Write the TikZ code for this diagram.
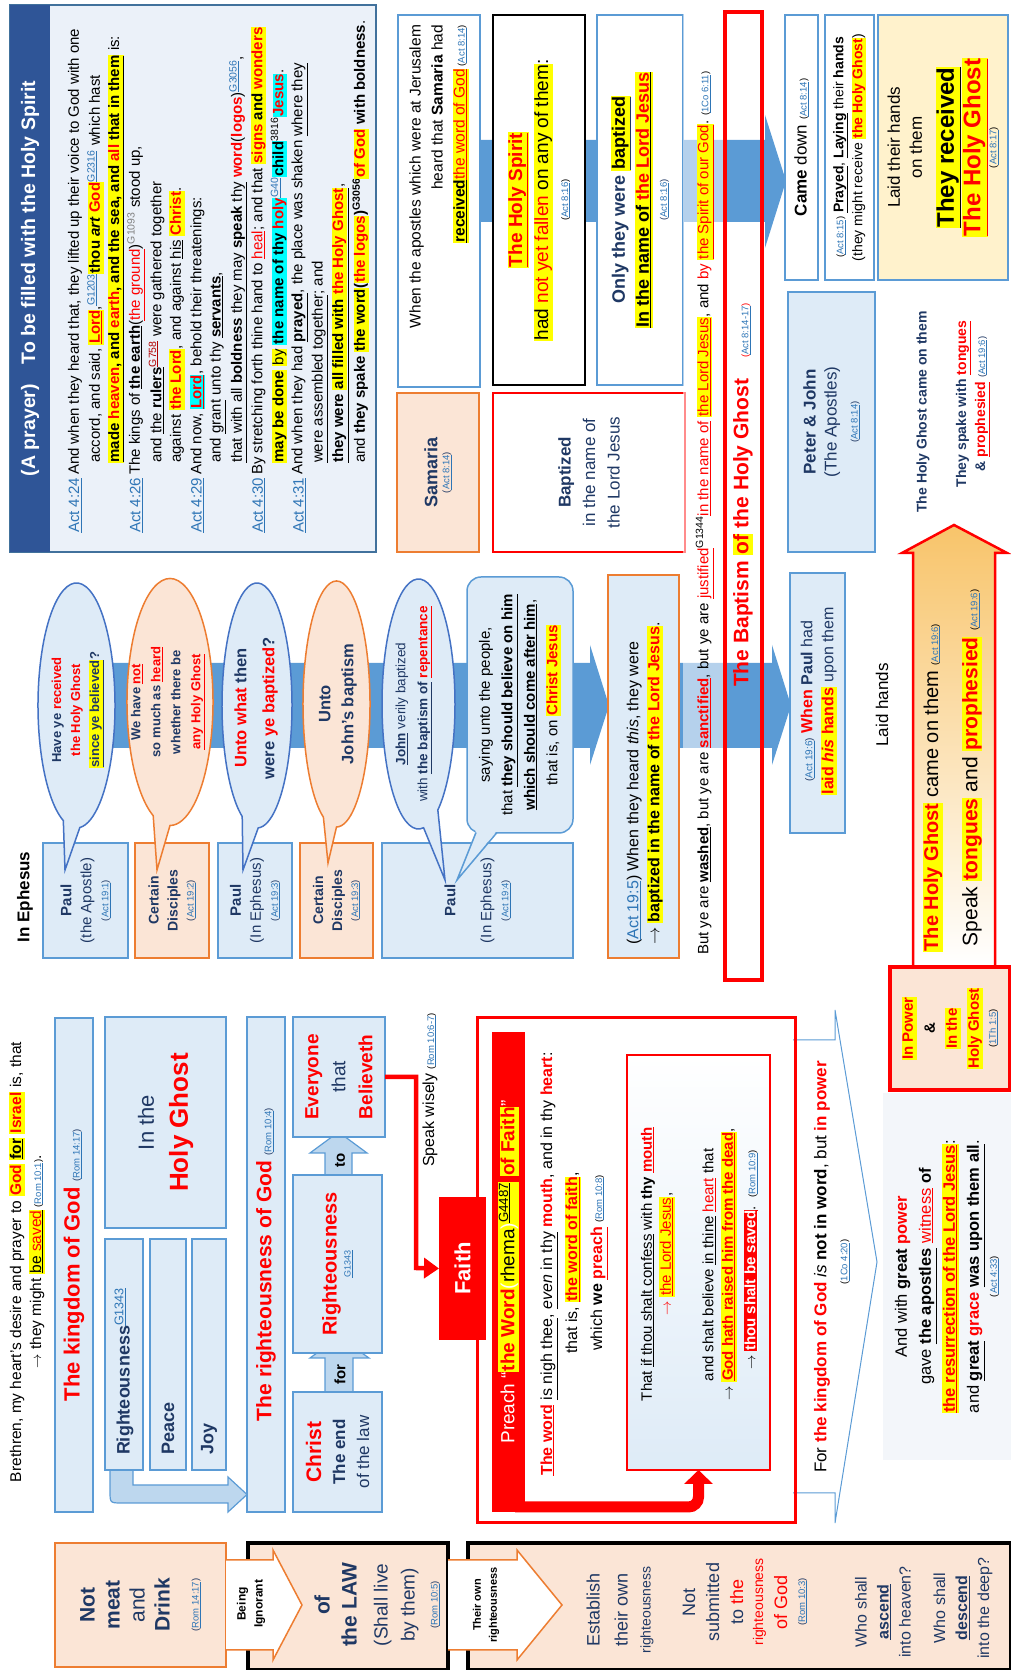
\documentclass[tikz,border=0pt]{standalone}
\usepackage{fontspec}
\setmainfont{Liberation Sans}
\usetikzlibrary{arrows.meta,positioning,calc}

\definecolor{bfill}{HTML}{DEEBF7}
\definecolor{bline}{HTML}{5B9BD5}
\definecolor{eline}{HTML}{4472C4}
\definecolor{ofill}{HTML}{FBE5D6}
\definecolor{oline}{HTML}{ED7D31}
\definecolor{navy}{HTML}{1F3864}
\definecolor{tbar}{HTML}{2F5597}
\definecolor{pfill}{HTML}{EBF1F9}
\definecolor{pline}{HTML}{41719C}
\definecolor{lnk}{HTML}{2E75B6}
\definecolor{arr}{HTML}{5B9BD5}
\definecolor{arrlt}{HTML}{BDD7EE}
\definecolor{hy}{HTML}{FFFF00}
\definecolor{hc}{HTML}{00FFFF}
\definecolor{gold}{HTML}{F8C46A}
\definecolor{cream}{HTML}{FFF2CC}
\definecolor{afill}{HTML}{F3F6FA}

\newcommand\fsz[2]{\fontsize{#1}{#2}\selectfont}
\newcommand\hl[1]{{\setlength{\fboxsep}{0.6pt}\colorbox{hy}{\vphantom{Ag}#1}}}
\newcommand\hc[1]{{\setlength{\fboxsep}{0.6pt}\colorbox{hc}{\vphantom{Ag}#1}}}
\newcommand\rd[1]{\textcolor{red}{#1}}
\newcommand\un[1]{\underline{#1}}
\newcommand\lk[1]{\textcolor{lnk}{\underline{#1}}}
\newcommand\sref[1]{{\fsz{9.5}{11}(\lk{#1})}}
\newcommand\gn[1]{\textsuperscript{\lk{#1}}}

\begin{document}
\begin{tikzpicture}[rotate=90, transform shape, x=1pt, y=-1pt,
    every node/.style={inner sep=0pt, outer sep=0pt, align=center},
    bbox/.style={draw=bline, fill=bfill, line width=1.5pt, text=navy},
    wbox/.style={draw=bline, fill=white, line width=1.5pt, text=black},
    obox/.style={draw=oline, fill=ofill, line width=1.5pt, text=navy},
    kframe/.style={draw=black, fill=ofill, line width=3.5pt},
    bball/.style={draw=eline, fill=bfill, line width=1.5pt},
    oball/.style={draw=oline, fill=ofill, line width=1.5pt},
    pl/.style={anchor=west, font=\fsz{15}{18}},
    barrow/.style={draw=bline, fill=arrlt, line width=1.2pt},
    oarrow/.style={draw=oline, fill=white, line width=1.5pt},
    ]

    %Page
    \useasboundingbox (0,0) rectangle (1670,1011);

    %Big arrows
    \fill[arr] (1448,440) -- (1530,440) -- (1530,765) -- (1555,765) -- (1489,786) -- (1422,765) -- (1448,765) -- cycle;
    \fill[arr] (922,60) -- (1007,60) -- (1007,590) -- (1025,590) -- (964.5,609) -- (905,590) -- (922,590) -- cycle;
    \fill[arr] (922,680) -- (1007,680) -- (1007,772) -- (1025,772) -- (964.5,791) -- (905,772) -- (922,772) -- cycle;

    %Prayer
    \node[draw=pline, fill=pfill, line width=1.5pt, minimum width=547pt, minimum height=366pt] (prayer) at (1391.5,193) {};
    \node[fill=tbar, minimum width=547pt, minimum height=40pt, text=white, font=\fsz{19.5}{23}\bfseries] (ptitle) at (1391.5,30) {(A prayer)\quad To be filled with the Holy Spirit};
    \node[pl] (a24) at (1137,75) {\lk{Act 4:24}};
    \node[pl] (p1) at (1195,75) {And when they heard that, they lifted up their voice to God with one};
    \node[pl] (p2) at (1207,95.4) {accord, and said, \hl{\rd{\textbf{\un{Lord}}}},\gn{G1203}\hl{\textbf{thou \textit{art} \rd{God}}}\gn{G2316} which hast};
    \node[pl] (p3) at (1207,115.8) {\hl{\textbf{\un{made \rd{heaven}, and \rd{earth}, and the sea, and \rd{all} that in them}}} is:};
    \node[pl] (a26) at (1137,136.2) {\lk{Act 4:26}};
    \node[pl] (p4) at (1195,136.2) {The kings of \textbf{\un{the earth}}(\rd{\un{the ground}})\textsuperscript{\textcolor{gray}{G1093}} stood up,};
    \node[pl] (p5) at (1207,156.6) {and \un{the \textbf{rulers}}\textsuperscript{\textcolor{red!70!black}{\un{G758}}} were gathered together};
    \node[pl] (p6) at (1207,177) {against \hl{\rd{\textbf{the Lord}}}, and against \un{his} \hl{\rd{\textbf{Christ}}}.};
    \node[pl] (a29) at (1137,197.4) {\lk{Act 4:29}};
    \node[pl] (p7) at (1195,197.4) {And now, \hc{\rd{\textbf{\un{Lord}}}}, behold their threatenings:};
    \node[pl] (p8) at (1207,217.8) {and \un{grant} unto thy \textbf{\un{servants}},};
    \node[pl] (p9) at (1207,238.2) {\un{that with all \textbf{boldness} they may \textbf{speak} thy} \rd{\textbf{word}}(\rd{\textbf{logos}})\gn{G3056},};
    \node[pl] (a30) at (1137,258.6) {\lk{Act 4:30}};
    \node[pl] (p10) at (1195,258.6) {By stretching forth thine hand to \rd{\un{heal}}; and that \hl{\textbf{\rd{signs} and \rd{wonders}}}};
    \node[pl] (p11) at (1207,279) {\hl{\textbf{may be done}} \hl{by} \hc{\textbf{the name of thy \rd{holy}}}\gn{G40}\hc{\textbf{child}}\textsuperscript{3816}\hc{\rd{\textbf{Jesus}}}.};
    \node[pl] (a31) at (1137,299.4) {\lk{Act 4:31}};
    \node[pl] (p12) at (1195,299.4) {And when they had \un{\textbf{prayed}}, the place was shaken \un{where they}};
    \node[pl] (p13) at (1207,319.8) {\un{were assembled together}; and};
    \node[pl] (p14) at (1207,340.2) {\textbf{\un{they were \hl{all filled with \rd{the Holy Ghost}}}},};
    \node[pl] (p15) at (1207,360.6) {and \textbf{they spake \hl{the word}(\hl{\rd{the logos}})\textsuperscript{G3056}\hl{\rd{of God}} with boldness}.};

    %Samaria
    \node[wbox, minimum width=372pt, minimum height=82pt] (apostles) at (1469,439) {};
    \node[anchor=east, align=right, font=\fsz{15.5}{22}] (apostlestxt) at (1645,439) {When the apostles which were at Jerusalem\\heard that \textbf{Samaria} had\\\hl{\un{\textbf{received}}\rd{\un{the word of God}}}\,\sref{Act 8:14}};
    \node[draw=black, fill=white, line width=1.5pt, minimum width=370pt, minimum height=92pt, font=\fsz{19}{26}] (notyet) at (1470,539) {\hl{\rd{\un{\textbf{The Holy Spirit}}}}\\\hl{had \rd{not yet fallen} on any of them}:\\[-6pt]\sref{Act 8:16}};
    \node[wbox, minimum width=370pt, minimum height=86pt, font=\fsz{18}{24}\bfseries, text=navy] (onlybapt) at (1470,640) {Only they were \hl{\un{\textcolor{black}{baptized}}}\\\hl{\textcolor{black}{\un{In the name of \rd{the Lord Jesus}}}}\\[-6pt]{\mdseries\sref{Act 8:16}}};
    \node[wbox, minimum width=265pt, minimum height=33pt, font=\fsz{17}{20}] (camedown) at (1522.5,801.5) {\textbf{Came} down \sref{Act 8:14}};
    \node[wbox, minimum width=265pt, minimum height=49pt, font=\fsz{14}{19}] (prayed) at (1522.5,849.5) {\sref{Act 8:15} \textbf{\un{Prayed}}, \un{\textbf{Laying}} their \textbf{hands}\\(they might receive \hl{\rd{\textbf{the Holy Ghost}}})};
    \node[draw=bline, fill=cream, line width=1.5pt, minimum width=265pt, minimum height=130pt, font=\fsz{17}{22}] (laid) at (1522.5,943) {Laid their hands\\on them\\[10pt]{\fsz{24}{30}\bfseries\hl{\un{They received}}}\\{\fsz{24}{30}\bfseries\hl{\rd{\un{The Holy Ghost}}}}\\[-6pt]\sref{Act 8:17}};
    \node[obox, minimum width=159pt, minimum height=82pt] (samaria) at (1197.5,438) {{\fsz{18}{22}\bfseries Samaria}\\\sref{Act 8:14}};
    \node[draw=red, fill=white, line width=1.5pt, minimum width=159pt, minimum height=192pt, font=\fsz{17}{24.5}, text=navy] (baptized) at (1197.5,589) {\textbf{Baptized}\\in the name of\\the Lord Jesus};
    \node[bbox, minimum width=260pt, minimum height=87pt, font=\fsz{17}{21}] (peter) at (1248,831.5) {\textbf{Peter \& John}\\(The Apostles)\\\sref{Act 8:14}};
    \node[font=\fsz{14}{18}\bfseries, text=navy] (hgsam) at (1258,923) {The Holy Ghost came on them};
    \node[font=\fsz{14}{19}\bfseries, text=navy] (spake) at (1266,973) {They spake with \rd{\un{tongues}}\\\& \rd{\un{prophesied}} {\mdseries\sref{Act 19:6}}};

    %Washed
    \fill[white, opacity=0.55] (712,683) rectangle (1660,723);
    \node[anchor=west, font=\fsz{15}{18}] (washed) at (715,705) {But ye are \textbf{\un{washed}}, but ye are \rd{\un{\textbf{sanctified}}}, but ye are \rd{\un{justified}}\textsuperscript{G1344}\rd{\un{in the name of}} \hl{\rd{\un{the Lord Jesus}}}, and \rd{by} \hl{\rd{\un{the Spirit of our God}}}.\ \sref{1Co 6:11}};
    \node[draw=red, line width=3.5pt, minimum width=968pt, minimum height=37pt] (baptism) at (1174,743.5) {};
    \node[font=\fsz{21}{25}\bfseries, text=red] (baptismtxt) at (1175,743) {The Baptism \hl{of} the Holy Ghost\quad{\mdseries\sref{Act 8:14-17}}};

    %Ephesus
    \node[font=\fsz{17}{20}\bfseries] (ephesus) at (773,25) {In Ephesus};
    \node[bbox, minimum width=115pt, minimum height=85pt, font=\fsz{15}{20}] (paul1) at (769.5,85.5) {\textbf{Paul}\\(the Apostle)\\[-3pt]\sref{Act 19:1}};
    \node[obox, minimum width=115pt, minimum height=74pt, font=\fsz{14}{19}\bfseries] (dis1) at (769.5,172) {Certain\\Disciples\\[-3pt]{\mdseries\sref{Act 19:2}}};
    \node[bbox, minimum width=115pt, minimum height=74pt, font=\fsz{15}{20}] (paul2) at (769.5,255) {\textbf{Paul}\\(In Ephesus)\\[-3pt]\sref{Act 19:3}};
    \node[obox, minimum width=115pt, minimum height=73pt, font=\fsz{14}{19}\bfseries] (dis2) at (769.5,336.5) {Certain\\Disciples\\[-3pt]{\mdseries\sref{Act 19:3}}};
    \node[bbox, minimum width=115pt, minimum height=191pt, font=\fsz{15}{20}] (paul3) at (769.5,477.5) {\textbf{Paul}\\[16pt](In Ephesus)\\[-3pt]\sref{Act 19:4}};
    \node[draw=oline, fill=bfill, line width=1.5pt, minimum width=383pt, minimum height=71pt] (heard) at (903.5,643.5) {};
    \node[anchor=west, align=left, font=\fsz{16}{21}] (heardtxt) at (725,645) {(\lk{Act 19:5}) When they heard \textit{this}, they were\\\(\rightarrow\) \hl{\textbf{baptized in the name of \rd{the Lord Jesus}}}.};
    \node[bbox, minimum width=260pt, minimum height=55pt] (laidhis) at (967,817.5) {};
    \node[font=\fsz{16}{21}, text=navy] (laidhistxt) at (969,819) {{\fsz{10}{12}(\lk{Act 19:6})} \rd{\textbf{When}} \textbf{Paul} had\\\hl{\rd{\textbf{laid \textit{his} hands}}} upon them};
    \node[font=\fsz{17}{20}] (laidhands) at (965,882) {Laid hands};

    %Questions and answers
    \draw[bball] (964.5,76.5) ++(200:122.5 and 38.5) arc[start angle=200, end angle=535, x radius=122.5, y radius=38.5] -- (800,65) -- cycle;
    \node[font=\fsz{13}{19}\bfseries, text=navy] (q1) at (960,78) {Have ye \rd{received}\\\rd{the Holy Ghost}\\\hl{\un{since ye believed}}?};
    \draw[oball] (968,170) ++(203:123.5 and 43) arc[start angle=203, end angle=540, x radius=123.5, y radius=43] -- (800,157) -- cycle;
    \node[font=\fsz{13}{20}\bfseries, text=navy] (a1) at (968,168) {We have \rd{\un{not}}\\so much as \rd{\un{heard}}\\whether there be\\\rd{\un{any Holy Ghost}}};
    \draw[bball] (964.5,257) ++(205:122.5 and 35) arc[start angle=205, end angle=538, x radius=122.5, y radius=35] -- (800,243) -- cycle;
    \node[font=\fsz{16.5}{28}\bfseries, text=navy] (q2) at (962,256) {\rd{Unto what} then\\were \rd{ye baptized}?};
    \draw[oball] (966,336.5) ++(203:123 and 33.5) arc[start angle=203, end angle=540, x radius=123, y radius=33.5] -- (807,328) -- cycle;
    \node[font=\fsz{16.5}{23}\bfseries, text=navy] (a2) at (966,338) {Unto\\John's baptism};
    \draw[bball] (966,418.5) ++(172:125 and 36.5) arc[start angle=172, end angle=508, x radius=125, y radius=36.5] -- (790,445) -- cycle;
    \node[font=\fsz{13.5}{22}, text=navy] (a3) at (966,414) {\textbf{\un{John}} verily baptized\\with \textbf{\un{the baptism of} \rd{\un{repentance}}}};
    \node[draw=bline, fill=bfill, line width=1.5pt, rounded corners=14pt, minimum width=256pt, minimum height=106pt, font=\fsz{15}{22.5}] (saying) at (965,520) {saying unto the people,\\that \un{\textbf{they should believe on him}}\\\un{\textbf{which should come after him}},\\that is, on \hl{\rd{\textbf{Christ Jesus}}}};
    \fill[bfill] (839.5,476) -- (790,457) -- (839.5,497) -- cycle;
    \draw[bline, line width=1.5pt] (837.5,476) -- (790,457) -- (837.5,497);

    %Brethren
    \node[font=\fsz{15.5}{20}] (brethren) at (408,27) {Brethren, my heart's desire and prayer to \hl{\rd{\textbf{God}}} \hl{\textbf{\un{for}}} \hl{\rd{\textbf{Israel}}} is, that\\\(\rightarrow\) they might \hl{\un{be \rd{saved}}}\,\sref{Rom 10:1}.};

    %Kingdom
    \node[bbox, minimum width=494pt, minimum height=38pt] (kingdom) at (405,74) {\rd{\fsz{22}{26}\textbf{The kingdom of God}}\ \ \sref{Rom 14:17}};
    \node[bbox, minimum width=211pt, minimum height=121pt, font=\fsz{22}{30}] (inhg) at (547.5,165.5) {In the\\[4pt]\rd{\fsz{26}{30}\textbf{Holy Ghost}}};
    \draw[barrow] (200,110) -- (179,110) .. controls (167,110) .. (167,122) -- (167,228) -- (158,228) -- (175.5,247) -- (193,228) -- (185,228) -- (185,133) -- (200,133);
    \node[bbox, minimum width=231pt, minimum height=38pt] (rbox) at (315.5,124) {};
    \node[anchor=west, font=\fsz{18}{22}\bfseries, text=navy] (rtxt) at (215,124) {Righteousness{\mdseries\gn{G1343}}};
    \node[bbox, minimum width=231pt, minimum height=36pt] (peace) at (315.5,168) {};
    \node[anchor=west, font=\fsz{18}{22}\bfseries, text=navy] (peacetxt) at (215,168) {Peace};
    \node[bbox, minimum width=231pt, minimum height=34pt] (joy) at (315.5,209) {};
    \node[anchor=west, font=\fsz{18}{22}\bfseries, text=navy] (joytxt) at (215,209) {Joy};

    %Righteousness of God
    \node[bbox, minimum width=495pt, minimum height=38pt] (rgod) at (405.5,266) {\rd{\fsz{21}{25}\textbf{The righteousness of God}}\ \ \sref{Rom 10:4}};
    \draw[barrow] (270,325) -- (312,325) -- (312,310) -- (333,339) -- (312,369) -- (312,353) -- (270,353) -- cycle;
    \node[font=\fsz{15}{18}\bfseries] (for) at (295,340) {for};
    \draw[barrow] (490,325) -- (517,325) -- (517,310) -- (538,338.5) -- (517,367) -- (517,352) -- (490,352) -- cycle;
    \node[font=\fsz{15}{18}\bfseries] (to) at (510,340) {to};
    \node[bbox, minimum width=120pt, minimum height=92pt, font=\fsz{19}{27}] (every) at (593,339) {\rd{\textbf{Everyone}}\\that\\\rd{\textbf{Believeth}}};
    \node[bbox, minimum width=178pt, minimum height=89pt] (rness) at (406,337.5) {\rd{\fsz{20}{24}\textbf{Righteousness}}\\[2pt]{\fsz{9}{11}\lk{G1343}}};
    \node[bbox, minimum width=120pt, minimum height=89pt, font=\fsz{17}{24}] (christ) at (218,337.5) {\rd{\fsz{21}{25}\textbf{Christ}}\\\textbf{The end}\\of the law};
    \node[font=\fsz{16}{20}] (speak) at (580,430) {Speak wisely \sref{Rom 10:6-7}};

    %Faith
    \draw[draw=bline, fill=white, line width=1pt] (630,793) -- (630,835) -- (660,835) -- (408,877) -- (147,835) -- (177,835) -- (177,793);
    \node[draw=red, line width=3pt, minimum width=505pt, minimum height=318pt] (frame) at (399.5,636) {};
    \node[fill=red, minimum width=143pt, minimum height=47pt, text=white, font=\fsz{22}{26}\bfseries] (faith) at (401.5,462.5) {Faith};
    \draw[red, line width=4.5pt, -{Triangle[length=15pt,width=20pt]}] (every.south) -- (593,416) -- (402,416) -- (faith.north);
    \node[fill=red, minimum width=480pt, minimum height=33pt, text=white, font=\fsz{19}{23}] (preach) at (398,508.5) {Preach ``\hl{\rd{\textbf{the Word}}(\textcolor{black}{rhema})\textsuperscript{\textcolor{black}{\un{G4487}}}} \hl{\rd{\textbf{of Faith}}}''};
    \node[font=\fsz{16}{20}] (nigh) at (406,549) {\rd{\textbf{\un{The word}}} \un{is nigh thee}, \un{\textit{even} in thy} \rd{\textbf{mouth}}, and in thy \rd{\textbf{heart}}:};
    \node[font=\fsz{16}{20}] (thatis) at (407,573) {that is, \hl{\rd{\textbf{\un{the word of faith}}}},};
    \node[font=\fsz{16}{20}] (wepreach) at (407,599) {which \textbf{we} \rd{\textbf{\un{preach}}}\ \sref{Rom 10:8}};
    \node[draw=red, line width=1.2pt, top color=white, bottom color=bfill, minimum width=415pt, minimum height=143pt] (inner) at (407.5,698.5) {};
    \draw[red, line width=11pt, rounded corners=10pt, -{Triangle[length=14pt,width=28pt]}] (163,515) -- (163,698.5) -- (inner.west);
    \node[font=\fsz{15}{19}] (i1) at (406,648) {That \un{if thou shalt confess} with \textbf{thy} \rd{\textbf{\un{mouth}}}};
    \node[font=\fsz{15}{19}] (i2) at (416,667) {\rd{\(\rightarrow\)} \hl{\rd{\un{the Lord Jesus}}},};
    \node[font=\fsz{15}{19}] (i3) at (405,709) {and shalt believe \un{in thine} \rd{\un{heart}} that};
    \node[font=\fsz{15}{19}] (i4) at (406,729) {\(\rightarrow\) \hl{\rd{\textbf{\un{God hath raised him from the dead}}}},};
    \node[font=\fsz{15}{19}] (i5) at (410,751) {\(\rightarrow\) {\setlength{\fboxsep}{0.6pt}\colorbox{red}{\textcolor{white}{\textbf{\un{thou shalt be saved}}}}}.\ \ \sref{Rom 10:9}};
    \node[font=\fsz{17}{20}] (forking) at (403,822) {For \rd{\textbf{the kingdom of God}} \textit{is} \textbf{not in word}, but \rd{\textbf{in power}}};
    \node (co420) at (408,845) {\sref{1Co 4:20}};

    %Power
    \path[draw=red, line width=2.5pt, top color=gold, bottom color=white] (705,913) -- (1117,913) -- (1117,902) -- (1145,954) -- (1117,1007) -- (1117,995) -- (705,995);
    \node[font=\fsz{20}{24}] (hgcame) at (882,933) {\hl{\rd{\textbf{The Holy Ghost}}} came on them\ \sref{Act 19:6}};
    \node[font=\fsz{21}{24}] (tongues) at (902,972) {Speak \hl{\rd{\textbf{tongues}}} and \hl{\rd{\textbf{prophesied}}}\ \sref{Act 19:6}};
    \node[draw=red, line width=3.5pt, fill=ofill, minimum width=123pt, minimum height=120pt, font=\fsz{15}{22}\bfseries] (inpower) at (641.5,950) {\hl{\rd{In Power}}\\\&\\\hl{\rd{In the}}\\\hl{\rd{Holy Ghost}}\\[-5pt]{\mdseries\sref{1Th 1:5}}};
    \node[fill=afill, minimum width=367pt, minimum height=128pt, font=\fsz{16.5}{24}] (witness) at (393.5,947) {And with \textbf{great} \rd{\textbf{power}}\\gave \textbf{\un{the apostles}} \rd{\un{witness}} \textbf{of}\\\hl{\rd{\textbf{\un{the resurrection of the Lord Jesus}}}}:\\and \textbf{\un{great}} \rd{\textbf{grace}} \textbf{\un{was upon them all}}.\\[-6pt]\sref{Act 4:33}};

    %Law
    \node[obox, minimum width=124pt, minimum height=171pt, font=\fsz{21}{25}\bfseries] (meat) at (65,140.5) {Not\\meat\\{\mdseries and}\\Drink\\[4pt]{\mdseries\sref{Rom 14:17}}};
    \node[kframe, minimum width=127pt, minimum height=200pt] (law) at (63.5,348) {};
    \node[font=\fsz{21}{27}, text=navy] (lawtxt) at (65,377) {\textbf{of}\\\textbf{the LAW}\\[4pt]{\fsz{19}{24}(Shall live}\\{\fsz{19}{22}by them)}\\[-4pt]\sref{Rom 10:5}};
    \node[kframe, minimum width=127pt, minimum height=543pt] (establish) at (63.5,739.5) {};
    \draw[oarrow] (20,226) -- (20,273) -- (10,273) -- (65,302) -- (120,273) -- (110,273) -- (110,226);
    \node[font=\fsz{12}{17}\bfseries] (ignorant) at (66,251) {Being\\Ignorant};
    \draw[oarrow] (20,448) -- (20,517) -- (10,517) -- (65,562) -- (120,517) -- (110,517) -- (110,448);
    \node[font=\fsz{11}{16}\bfseries] (ownr) at (65,486) {Their own\\righteousness};
    \node[font=\fsz{18}{28}, text=navy] (est) at (60,620) {Establish\\their own\\[-5pt]{\fsz{14}{18}righteousness}};
    \node[font=\fsz{18}{24}, text=navy] (notsub) at (68,745) {Not\\submitted\\to \rd{the}\\[-4pt]{\fsz{14}{18}\rd{righteousness}}\\\rd{of God}\\[-6pt]\sref{Rom 10:3}};
    \node[font=\fsz{16}{22}, text=navy] (ascend) at (58,883) {Who shall\\\textbf{\un{ascend}}\\into heaven?};
    \node[font=\fsz{16}{22}, text=navy] (descend) at (62,963) {Who shall\\\textbf{\un{descend}}\\into the deep?};

\end{tikzpicture}
\end{document}
